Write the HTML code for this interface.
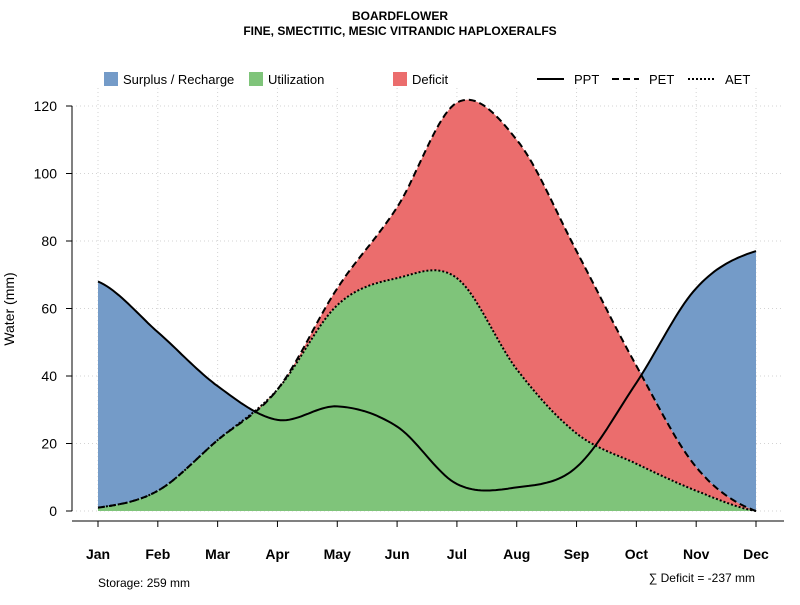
<!DOCTYPE html>
<html><head><meta charset="utf-8"><style>
body{margin:0;background:#fff;}
svg{font-family:"Liberation Sans",sans-serif;}
</style></head><body>
<svg id="c" width="800" height="600"></svg>
<script>
const months=["Jan","Feb","Mar","Apr","May","Jun","Jul","Aug","Sep","Oct","Nov","Dec"];
const ppt=[68,53,37,27,31,25,8,7,13,38,66,77];
const pet=[1,6,21,36,66,90,121,110,77,43,13,0];
const aet=[1,6,21,36,61,69,69,42,23,14,6,0];
const yTicks=[0,20,40,60,80,100,120];
const NS="http://www.w3.org/2000/svg";
const svg=document.getElementById('c');
function X(i){return 98+i*(756-98)/11;}
function Y(v){return 511-v*(511-106)/120;}
function el(t,a,p){const e=document.createElementNS(NS,t);for(const k in a)e.setAttribute(k,a[k]);(p||svg).appendChild(e);return e;}
function sample(arr){const out=[];const n=arr.length;for(let i=0;i<n-1;i++){const p0=arr[Math.max(0,i-1)],p1=arr[i],p2=arr[i+1],p3=arr[Math.min(n-1,i+2)];for(let s=0;s<20;s++){const t=s/20,t2=t*t,t3=t2*t;const v=0.5*((2*p1)+(-p0+p2)*t+(2*p0-5*p1+4*p2-p3)*t2+(-p0+3*p1-3*p2+p3)*t3);out.push([i+t,v]);}}out.push([n-1,arr[n-1]]);return out;}
const sP=sample(ppt),sE=sample(pet),sA=sample(aet);
function pts(s){return s.map(d=>X(d[0]).toFixed(1)+","+Y(d[1]).toFixed(1));}
let t=el('text',{x:400,y:20,'text-anchor':'middle','font-size':12,'font-weight':'bold'});t.textContent="BOARDFLOWER";

t=el('text',{x:400,y:35,'text-anchor':'middle','font-size':12,'font-weight':'bold'});t.textContent="FINE, SMECTITIC, MESIC VITRANDIC HAPLOXERALFS";

const g=el('g',{});
months.forEach((m,i)=>el('line',{x1:X(i),x2:X(i),y1:88,y2:511,stroke:'#d3d3d3','stroke-dasharray':'1,3'},g));
yTicks.forEach(v=>el('line',{x1:72,x2:784,y1:Y(v),y2:Y(v),stroke:'#d3d3d3','stroke-dasharray':'1,3'},g));
const green=el('polygon',{points:[X(0)+","+Y(0),...pts(sA),X(11)+","+Y(0)].join(" "),fill:'#7fc47a'});

const red=el('polygon',{points:[...pts(sE),...pts(sA).reverse()].join(" "),fill:'#eb6d6d'});

const upperSurplus=sP.map((d,k)=>[d[0],Math.max(d[1],sE[k][1])]);
const blue=el('polygon',{points:[...pts(upperSurplus),...pts(sE).reverse()].join(" "),fill:'#749bc8'});

let l=el('polyline',{points:pts(sE).join(" "),fill:'none',stroke:'#000','stroke-width':2,'stroke-dasharray':'7,4'});

l=el('polyline',{points:pts(sA).join(" "),fill:'none',stroke:'#000','stroke-width':2,'stroke-dasharray':'2,2'});

l=el('polyline',{points:pts(sP).join(" "),fill:'none',stroke:'#000','stroke-width':2});

const ax=el('g',{});
el('line',{x1:72,x2:72,y1:Y(0),y2:Y(120),stroke:'#000'},ax);
yTicks.forEach(v=>{el('line',{x1:66,x2:72,y1:Y(v),y2:Y(v),stroke:'#000'},ax);const tt=el('text',{x:57,y:Y(v)+5,'text-anchor':'end','font-size':14},ax);tt.textContent=v;});
const xa=el('g',{});
el('line',{x1:72,x2:784,y1:521,y2:521,stroke:'#000'},xa);
months.forEach((m,i)=>{el('line',{x1:X(i),x2:X(i),y1:521,y2:527,stroke:'#000'},xa);const tt=el('text',{x:X(i),y:559,'text-anchor':'middle','font-size':14,'font-weight':'bold'},xa);tt.textContent=m;});
t=el('text',{x:14,y:309,'text-anchor':'middle','font-size':14,transform:'rotate(-90 14 309)'});t.textContent="Water (mm)";

t=el('text',{x:98,y:587,'font-size':12});t.textContent="Storage: 259 mm";

t=el('text',{x:755,y:582,'text-anchor':'end','font-size':12});t.textContent="∑ Deficit = -237 mm";

const lg=el('g',{});
[["#749bc8","Surplus / Recharge",104],["#7fc47a","Utilization",249],["#eb6d6d","Deficit",393]].forEach(d=>{
 const e=el('g',{},lg);
 el('rect',{x:d[2],y:72,width:14,height:14,fill:d[0]},e);const tt=el('text',{x:d[2]+19,y:84,'font-size':13},e);tt.textContent=d[1];});
[["none","PPT",537],["7,4","PET",612],["2,2","AET",688]].forEach(d=>{
 const e=el('g',{},lg);
 el('line',{x1:d[2],x2:d[2]+27,y1:79,y2:79,stroke:'#000','stroke-width':2,'stroke-dasharray':d[0]},e);const tt=el('text',{x:d[2]+37,y:84,'font-size':13},e);tt.textContent=d[1];});
</script>
</body></html>
